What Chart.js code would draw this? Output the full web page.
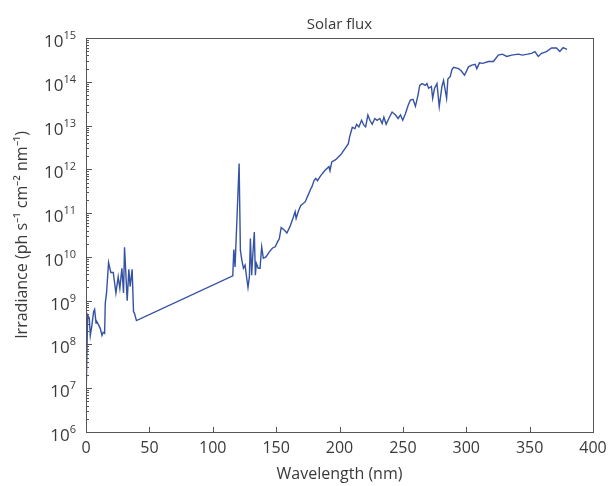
<!DOCTYPE html>
<html>
<head>
<meta charset="utf-8">
<title>Solar flux</title>
<script src="https://cdn.jsdelivr.net/npm/chart.js@4.4.1/dist/chart.umd.min.js"></script>
<style>
  html, body { margin: 0; padding: 0; background: #fff; }
  #wrap { width: 611px; height: 486px; }
</style>
</head>
<body>
<div id="wrap"><canvas id="fluxChart" width="611" height="486"></canvas></div>
<script>
// wavelength (nm) and irradiance (ph s-1 cm-2 nm-1)
const wavelength = [
  0.2, 1.3, 2.6, 3.4, 4.7, 6.0, 6.8, 7.9, 8.6, 9.9, 11.3, 12.6, 13.6, 14.7, 15.2, 16.2, 17.8, 19.6,
  21.5, 23.6, 25.4, 26.7, 28.3, 29.6, 30.4, 32.5, 33.8, 34.8, 36.4, 37.5, 38.2, 39.8,
  115.8, 116.6, 117.6, 120.8, 121.8, 122.9, 124.2, 125.5, 126.5, 127.8, 128.9, 129.7, 130.7,
  131.5, 132.8, 133.6, 134.4, 135.9, 137.3, 138.6, 139.9, 142.0, 144.6, 147.2, 149.3, 151.1,
  152.5, 154.0, 156.4, 158.5, 160.9, 163.5, 165.0, 165.8, 167.6, 169.5, 172.9, 176.0, 177.3,
  178.1, 180.0, 181.3, 182.6, 185.2, 188.6, 191.7, 192.5, 193.9, 197.0, 200.9, 203.5, 206.9,
  208.0, 210.1, 212.2, 213.5, 215.3, 217.4, 219.2, 220.6, 222.4, 224.0, 225.8, 227.9, 229.7,
  231.8, 233.6, 235.0, 236.8, 238.9, 241.5, 244.2, 246.2, 248.1, 249.9, 252.0, 254.1, 255.9,
  258.0, 259.9, 261.9, 263.3, 265.1, 267.7, 269.0, 270.3, 272.5, 273.5, 275.0, 276.9, 278.7,
  280.8, 282.1, 284.5, 285.5, 287.4, 288.7, 290.0, 293.9, 296.0, 298.6, 301.8, 304.4, 307.0,
  308.3, 310.4, 313.0, 317.5, 321.4, 325.3, 328.5, 331.9, 335.8, 341.1, 344.2, 348.4, 351.5,
  354.2, 356.8, 359.4, 363.3, 367.3, 371.2, 373.8, 376.4, 379.5
];
const irradiance = [
  1.0e7, 4.7e8, 4.0e8, 1.6e8, 2.8e8, 5.6e8, 6.3e8, 3.1e8, 3.3e8, 2.8e8, 2.3e8, 1.6e8, 1.9e8, 1.8e8, 8.7e8, 1.5e9, 7.4e9, 4.4e9,
  4.4e9, 1.5e9, 3.5e9, 1.9e9, 5.5e9, 1.5e9, 1.66e10, 1.0e9, 5.2e9, 2.1e9, 5.2e9, 5.6e8, 5.2e8, 3.5e8,
  3.7e9, 1.48e10, 5.9e9, 1.35e12, 1.45e10, 8.5e9, 5.5e9, 6.5e9, 3.8e9, 2.0e9, 3.55e9, 2.63e10, 3.8e9,
  1.0e10, 3.7e10, 3.8e9, 7.1e9, 5.5e9, 5.5e9, 1.7e10, 9.3e9, 1.0e10, 1.3e10, 1.6e10, 1.7e10, 2.2e10,
  2.6e10, 4.7e10, 4.1e10, 3.5e10, 4.9e10, 7.9e10, 1.07e11, 7.6e10, 1.12e11, 1.5e11, 1.8e11, 2.9e11, 3.6e11,
  3.9e11, 5.6e11, 6.2e11, 5.5e11, 7.2e11, 9.5e11, 1.15e12, 9.3e11, 1.48e12, 1.66e12, 2.14e12, 2.75e12, 3.8e12,
  5.5e12, 9.1e12, 8.5e12, 1.07e13, 9.3e12, 1.32e13, 1.02e13, 9.3e12, 1.74e13, 1.32e13, 1.07e13, 1.45e13, 1.32e13,
  1.45e13, 1.12e13, 1.55e13, 1.07e13, 1.45e13, 2.04e13, 1.74e13, 1.45e13, 1.74e13, 1.32e13, 1.86e13, 2.88e13, 3.8e13,
  3.98e13, 2.75e13, 4.9e13, 8.3e13, 9.1e13, 8.3e13, 9.1e13, 7.1e13, 7.8e13, 4.2e13, 7.1e13, 9.1e13, 2.7e13,
  7.8e13, 1.07e14, 4.2e13, 1.15e14, 1.32e14, 1.9e14, 2.14e14, 2.0e14, 1.78e14, 1.41e14, 2.19e14, 2.4e14, 2.5e14,
  2.0e14, 2.7e14, 2.63e14, 2.9e14, 2.9e14, 4.07e14, 4.27e14, 3.8e14, 4.07e14, 4.27e14, 4.07e14, 4.27e14, 4.47e14,
  4.9e14, 3.8e14, 4.47e14, 4.9e14, 5.9e14, 5.9e14, 4.9e14, 6.0e14, 5.5e14
];

// axis ticks
const xTicks = [0, 50, 100, 150, 200, 250, 300, 350, 400];
const yExponents = [6, 7, 8, 9, 10, 11, 12, 13, 14, 15];

const FONT = '"Open Sans", "Liberation Sans", sans-serif';
const TEXT = '#3a3a3a';
const FRAME = '#555';

// frame, inward ticks, labels and titles
const axesPlugin = {
  id: 'axesPlugin',
  afterDraw(chart) {
    const ctx = chart.ctx;
    const a = chart.chartArea;
    const xs = chart.scales.x;
    const ys = chart.scales.y;
    ctx.save();

    ctx.strokeStyle = FRAME;
    ctx.lineWidth = 1;
    ctx.strokeRect(Math.round(a.left) + 0.5, Math.round(a.top) + 0.5,
      Math.round(a.right - a.left), Math.round(a.bottom - a.top));

    // x ticks
    ctx.beginPath();
    xTicks.forEach(v => {
      const px = Math.round(xs.getPixelForValue(v)) + 0.5;
      ctx.moveTo(px, a.bottom);
      ctx.lineTo(px, a.bottom - 5);
    });
    // y ticks, majors and minors
    yExponents.forEach(e => {
      const py = Math.round(ys.getPixelForValue(Math.pow(10, e))) + 0.5;
      ctx.moveTo(a.left, py);
      ctx.lineTo(a.left + 6, py);
      if (e < 15) {
        for (let m = 2; m <= 9; m++) {
          const pm = Math.round(ys.getPixelForValue(m * Math.pow(10, e))) + 0.5;
          ctx.moveTo(a.left, pm);
          ctx.lineTo(a.left + 3, pm);
        }
      }
    });
    ctx.stroke();

    ctx.fillStyle = TEXT;
    // x labels
    ctx.font = '16px ' + FONT;
    ctx.textAlign = 'center';
    ctx.textBaseline = 'alphabetic';
    xTicks.forEach(v => {
      ctx.fillText(String(v), xs.getPixelForValue(v), a.bottom + 21);
    });

    // y labels: "10" with raised exponent
    yExponents.forEach(e => {
      const py = ys.getPixelForValue(Math.pow(10, e));
      const right = a.left - 10;
      ctx.font = '11px ' + FONT;
      const ew = ctx.measureText(String(e)).width;
      ctx.textAlign = 'right';
      ctx.fillText(String(e), right, py + 1);
      ctx.font = '17px ' + FONT;
      ctx.fillText('10', right - ew, py + 9);
    });

    // axis titles
    ctx.font = '16px ' + FONT;
    ctx.textAlign = 'center';
    ctx.fillText('Wavelength (nm)', (a.left + a.right) / 2, 479);

    ctx.save();
    ctx.translate(27, (a.top + a.bottom) / 2);
    ctx.rotate(-Math.PI / 2);
    ctx.fillText('Irradiance (ph s\u207B\u00B9 cm\u207B\u00B2 nm\u207B\u00B9)', 0, 0);
    ctx.restore();

    // title
    ctx.font = '15px ' + FONT;
    ctx.fillText('Solar flux', (a.left + a.right) / 2, 29);

    ctx.restore();
  }
};

const points = wavelength.map((w, i) => ({ x: w, y: irradiance[i] }));

new Chart(document.getElementById('fluxChart'), {
  type: 'line',
  data: {
    datasets: [{
      label: 'Solar flux',
      data: points,
      borderColor: '#3552a4',
      borderWidth: 1.4,
      pointRadius: 0,
      tension: 0,
      fill: false
    }]
  },
  options: {
    responsive: false,
    animation: false,
    layout: { padding: { left: 86, top: 38, right: 18, bottom: 54 } },
    plugins: {
      legend: { display: false },
      tooltip: { enabled: false },
      title: { display: false }
    },
    scales: {
      x: {
        type: 'linear',
        min: 0,
        max: 400,
        display: false
      },
      y: {
        type: 'logarithmic',
        min: 1e6,
        max: 1e15,
        display: false
      }
    }
  },
  plugins: [axesPlugin]
});
</script>
</body>
</html>
